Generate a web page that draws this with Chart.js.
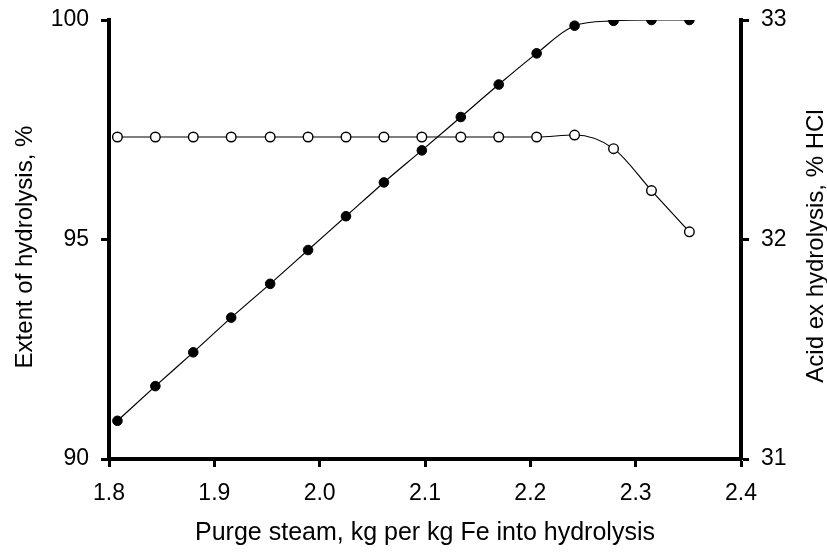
<!DOCTYPE html>
<html>
<head>
<meta charset="utf-8">
<script src="https://cdn.jsdelivr.net/npm/chart.js@4"></script>
<style>
  html, body { margin: 0; padding: 0; background: #fff; }
  #wrap { width: 827px; height: 553px; }
</style>
</head>
<body>
<div id="wrap"><canvas id="cv" width="827" height="553"></canvas></div>
<script>
// purge steam, kg per kg Fe
const steam = [1.808, 1.844, 1.880, 1.916, 1.953, 1.989, 2.025, 2.061, 2.097, 2.134, 2.170, 2.206, 2.242, 2.279, 2.315, 2.351];
// extent of hydrolysis, % (filled)
const extent = [90.87, 91.66, 92.43, 93.22, 93.99, 94.76, 95.53, 96.30, 97.03, 97.79, 98.53, 99.24, 99.87, 99.98, 100, 100];
// acid ex hydrolysis, % HCl (open)
const acid = [32.467, 32.467, 32.467, 32.467, 32.467, 32.467, 32.467, 32.467, 32.467, 32.467, 32.467, 32.467, 32.476, 32.414, 32.223, 32.035];

const xTitle = 'Purge steam, kg per kg Fe into hydrolysis';
const yTitle = 'Extent of hydrolysis, %';
const y2Title = 'Acid ex hydrolysis, % HCl';

const fnt = '"Liberation Sans", Arial, Helvetica, sans-serif';

let pts1 = steam.map((x, i) => ({x: x, y: extent[i]}));
let pts2 = steam.map((x, i) => ({x: x, y: acid[i]}));

// axis titles, both y titles read bottom to top
const titlesPlugin = {
  id: 'titles',
  afterDraw(chart) {
    let ctx = chart.ctx;
    let ca = chart.chartArea;
    ctx.save();
    ctx.fillStyle = '#000';
    ctx.textAlign = 'center';
    ctx.textBaseline = 'alphabetic';
    ctx.font = '25px ' + fnt;
    ctx.fillText(xTitle, (ca.left + ca.right) / 2, 540);

    ctx.font = '24px ' + fnt;
    ctx.save();
    ctx.translate(32, 247);
    ctx.rotate(-Math.PI / 2);
    ctx.fillText(yTitle, 0, 0);
    ctx.restore();

    ctx.save();
    ctx.translate(823, 246);
    ctx.rotate(-Math.PI / 2);
    ctx.fillText(y2Title, 0, 0);
    ctx.restore();
    ctx.restore();
  }
};

let tickGrid = {
  display: true,
  drawOnChartArea: false,
  drawTicks: true,
  tickLength: 8,
  tickWidth: 3,
  tickColor: '#000'
};
let border = { display: true, color: '#000', width: 4 };

function fixY(w) {
  return s => { s.width = w; s.paddingTop = 0; s.paddingBottom = 0; };
}

new Chart(document.getElementById('cv').getContext('2d'), {
  type: 'line',
  data: {
    datasets: [{
      label: 'Extent',
      data: pts1,
      yAxisID: 'y',
      borderColor: '#000',
      borderWidth: 1.2,
      backgroundColor: '#000',
      pointBackgroundColor: '#000',
      pointBorderColor: '#000',
      pointBorderWidth: 1,
      pointRadius: 4.8,
      cubicInterpolationMode: 'monotone',
      fill: false
    }, {
      label: 'Acid',
      data: pts2,
      yAxisID: 'y2',
      borderColor: '#000',
      borderWidth: 1.2,
      backgroundColor: '#fff',
      pointBackgroundColor: '#fff',
      pointBorderColor: '#000',
      pointBorderWidth: 1.4,
      pointRadius: 4.8,
      cubicInterpolationMode: 'monotone',
      fill: false
    }]
  },
  options: {
    responsive: false,
    animation: false,
    layout: { padding: { top: 20, left: 0, right: 0, bottom: 0 } },
    plugins: {
      legend: { display: false },
      tooltip: { enabled: false },
      title: { display: false }
    },
    scales: {
      x: {
        type: 'linear',
        min: 1.8,
        max: 2.4,
        grid: tickGrid,
        border: border,
        ticks: {
          stepSize: 0.1,
          color: '#000',
          padding: 13,
          font: { family: fnt, size: 23 },
          callback: v => v.toFixed(1)
        },
        afterFit: s => { s.height = 94; s.paddingLeft = 0; s.paddingRight = 0; }
      },
      y: {
        position: 'left',
        min: 90,
        max: 100,
        grid: tickGrid,
        border: border,
        ticks: {
          stepSize: 5,
          color: '#000',
          padding: 12,
          font: { family: fnt, size: 23 }
        },
        afterFit: fixY(109)
      },
      y2: {
        position: 'right',
        min: 31,
        max: 33,
        grid: tickGrid,
        border: border,
        ticks: {
          stepSize: 1,
          color: '#000',
          padding: 12,
          font: { family: fnt, size: 23 }
        },
        afterFit: fixY(86)
      }
    }
  },
  plugins: [titlesPlugin]
});
</script>
</body>
</html>
